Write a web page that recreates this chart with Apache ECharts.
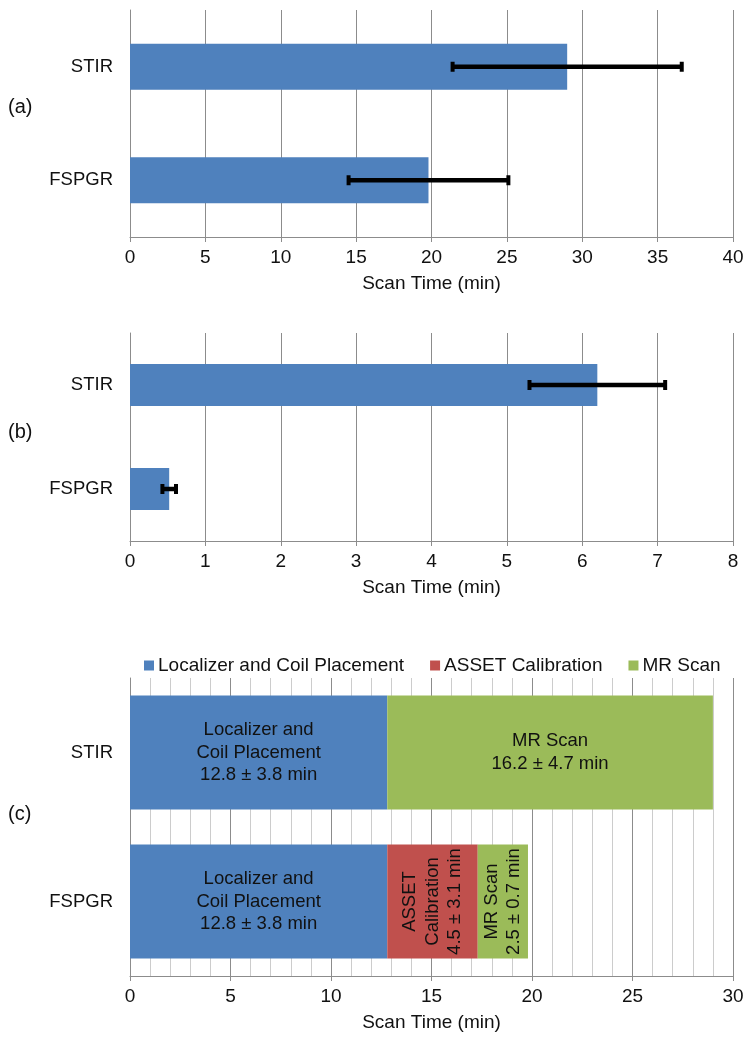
<!DOCTYPE html>
<html><head><meta charset="utf-8">
<script src="https://cdn.jsdelivr.net/npm/echarts@6/dist/echarts.min.js"></script>
<style>html,body{margin:0;padding:0;background:#fff}#c{width:754px;height:1046px}</style>
</head><body><div id="c"></div>
<script>
// ---- data ----
const categories = ['FSPGR', 'STIR'];
// (a) total scan time
const totalTime = [19.8, 29.0];
const totalErr = [5.3, 7.6];
// (b) scan time
const partTime = [0.52, 6.2];
const partErr = [0.09, 0.9];
// (c) breakdown
const seriesNames = ['Localizer and Coil Placement', 'ASSET Calibration', 'MR Scan'];
const localizer = [12.8, 12.8];
const localizerSD = [3.8, 3.8];
const asset = [4.5, null];
const assetSD = [3.1, null];
const mrScan = [2.5, 16.2];
const mrScanSD = [0.7, 4.7];
const panelLabels = ['(a)', '(b)', '(c)'];
const axisTitle = 'Scan Time (min)';

const FONT = 'Liberation Sans, Arial, sans-serif';
const BLUE = '#4F81BD', RED = '#C0504D', GREEN = '#9BBB59';
const GRID = '#8c8c8c', MINOR = '#cccccc', TXT = '#111';

const chart = echarts.init(document.getElementById('c'), null, {renderer: 'canvas'});

function xAx(gi, max, interval, minor) {
  return {
    gridIndex: gi, type: 'value', min: 0, max: max, interval: interval,
    name: axisTitle, nameLocation: 'middle', nameGap: 37,
    nameTextStyle: {fontFamily: FONT, fontSize: 19, color: TXT},
    axisLine: {show: true, lineStyle: {color: GRID, width: 1}},
    axisTick: {show: true, length: 5, lineStyle: {color: GRID}},
    axisLabel: {fontFamily: FONT, fontSize: 19, color: TXT, margin: 11},
    splitLine: {show: true, lineStyle: {color: GRID, width: 1}},
    minorTick: {show: false, splitNumber: 5},
    minorSplitLine: {show: !!minor, lineStyle: {color: MINOR, width: 1}}
  };
}
function yAx(gi) {
  return {
    gridIndex: gi, type: 'category', data: categories,
    axisLine: {show: true, lineStyle: {color: GRID}},
    axisTick: {show: false},
    axisLabel: {fontFamily: FONT, fontSize: 18.5, color: TXT, margin: 17},
    splitLine: {show: false}
  };
}
function errSeries(gi, means, errs) {
  return {
    type: 'custom', xAxisIndex: gi, yAxisIndex: gi, z: 10, silent: true,
    data: categories.map((c, i) => [means[i] - errs[i], i, means[i] + errs[i]]),
    encode: {x: [0, 2], y: 1},
    renderItem: function (params, api) {
      const lo = api.coord([api.value(0), api.value(1)]);
      const hi = api.coord([api.value(2), api.value(1)]);
      const h = 5;
      const cap = {stroke: '#000', lineWidth: 4};
      return {type: 'group', children: [
        {type: 'line', shape: {x1: lo[0], y1: lo[1], x2: hi[0], y2: hi[1]}, style: {stroke: '#000', lineWidth: 4.5}},
        {type: 'line', shape: {x1: lo[0], y1: lo[1] - h, x2: lo[0], y2: lo[1] + h}, style: cap},
        {type: 'line', shape: {x1: hi[0], y1: hi[1] - h, x2: hi[0], y2: hi[1] + h}, style: cap}
      ]};
    }
  };
}
const labelBase = {show: true, position: 'inside', fontFamily: FONT, fontSize: 18.5, lineHeight: 22.5, color: TXT, align: 'center'};

function stackData(vals, sds, name, rotateIdx) {
  return vals.map((v, i) => {
    if (v == null) return null;
    const txt = (name === 'Localizer and Coil Placement' ? 'Localizer and\nCoil Placement' :
                 name === 'ASSET Calibration' ? 'ASSET\nCalibration' : 'MR Scan') +
                '\n' + v.toFixed(1) + ' ± ' + sds[i].toFixed(1) + ' min';
    const lab = Object.assign({}, labelBase, {formatter: txt});
    if (rotateIdx.indexOf(i) >= 0) lab.rotate = 90;
    return {value: v, label: lab};
  });
}

const option = {
  animation: false,
  backgroundColor: '#fff',
  textStyle: {fontFamily: FONT},
  grid: [
    {left: 130, right: 21, top: 10, height: 227},
    {left: 130, right: 21, top: 333, height: 208},
    {left: 130, right: 21, top: 678, height: 298}
  ],
  legend: {
    top: 651, left: 139, itemWidth: 10, itemHeight: 10, itemGap: 26, icon: 'rect',
    textStyle: {fontFamily: FONT, fontSize: 19, color: TXT, padding: [0, 0, 0, -1]},
    data: seriesNames
  },
  xAxis: [xAx(0, 40, 5, false), xAx(1, 8, 1, false), xAx(2, 30, 5, true)],
  yAxis: [yAx(0), yAx(1), yAx(2)],
  graphic: panelLabels.map((t, i) => ({
    type: 'text', left: 8, top: [97, 422, 804][i],
    style: {text: t, fontFamily: FONT, fontSize: 20, fill: TXT}
  })),
  series: [
    {type: 'bar', name: 'total', xAxisIndex: 0, yAxisIndex: 0, data: totalTime, barWidth: 46, itemStyle: {color: BLUE}},
    errSeries(0, totalTime, totalErr),
    {type: 'bar', name: 'part', xAxisIndex: 1, yAxisIndex: 1, data: partTime, barWidth: 42, itemStyle: {color: BLUE}},
    errSeries(1, partTime, partErr),
    {type: 'bar', name: seriesNames[0], stack: 's', xAxisIndex: 2, yAxisIndex: 2, barWidth: 114,
     itemStyle: {color: BLUE}, data: stackData(localizer, localizerSD, seriesNames[0], [])},
    {type: 'bar', name: seriesNames[1], stack: 's', xAxisIndex: 2, yAxisIndex: 2, barWidth: 114,
     itemStyle: {color: RED}, data: stackData(asset, assetSD, seriesNames[1], [0])},
    {type: 'bar', name: seriesNames[2], stack: 's', xAxisIndex: 2, yAxisIndex: 2, barWidth: 114,
     itemStyle: {color: GREEN}, data: stackData(mrScan, mrScanSD, seriesNames[2], [0])}
  ]
};
chart.setOption(option);
</script></body></html>
